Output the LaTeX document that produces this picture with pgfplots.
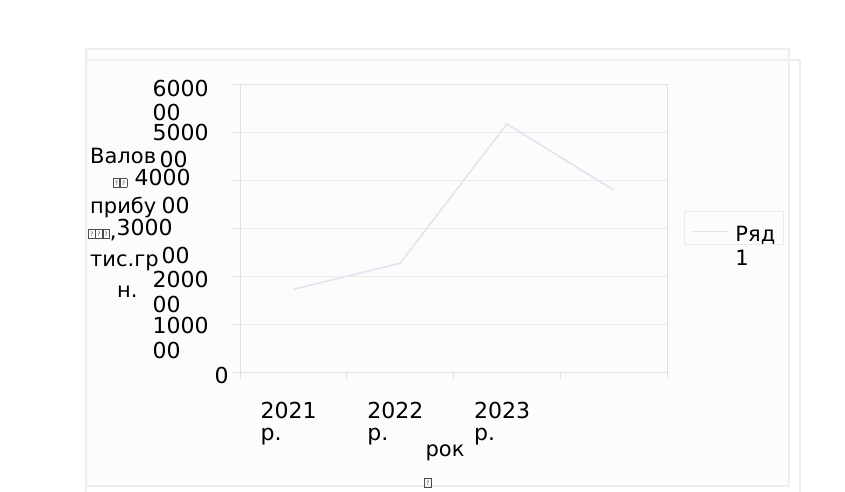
\documentclass[border=0pt]{standalone}
\usepackage{pgfplots}
\pgfplotsset{compat=1.18}
\usepackage{fontspec}
\setmainfont{DejaVu Sans}

\newcommand\lf{\fontsize{21}{24}\selectfont}
\newcommand\tf{\fontsize{22}{24}\selectfont}
% small framed placeholder glyph
\newcommand\tofu{{\color{black!70}\setlength\fboxsep{0pt}\setlength\fboxrule{0.6pt}%
  \fbox{\parbox[b][8pt][c]{6pt}{\centering\fontsize{6}{6}\selectfont ?}}}}
% wrapped y tick label: #1/#4 baseline drops, #2/#5 horizontal shifts
\newcommand\ytl[6]{\rlap{\hspace*{#2pt}\raisebox{-#1pt}{#3}}\rlap{\hspace*{#5pt}\raisebox{-#4pt}{#6}}}
% wrapped x tick label
\newcommand\xtl[1]{\rlap{#1}\rlap{\raisebox{-22pt}{р.}}}

\definecolor{framec}{HTML}{EEEEEE}
\definecolor{gridc}{HTML}{EBEBEB}
\definecolor{axisc}{HTML}{E0E0E0}
\definecolor{series}{RGB}{226,226,240}

\begin{document}
\begin{tikzpicture}[font=\lf]
\useasboundingbox (0pt,0pt) rectangle (845pt,491pt);
\fill[white] (0pt,0pt) rectangle (845pt,491pt);
% chart area outlines
\filldraw[fill=black!1, draw=framec, line width=1.5pt] (86pt,5pt) rectangle (789pt,442pt);
\draw[framec, line width=1.5pt] (86pt,-5pt) -- (86pt,431pt) -- (800pt,431pt) -- (800pt,-5pt);

\begin{axis}[
  at={(240pt,119pt)}, anchor=south west,
  scale only axis, width=427pt, height=288pt,
  xmin=0, xmax=4, ymin=0, ymax=600000,
  xtick={0,1,2,3,4},
  xticklabels={\xtl{2021},\xtl{2022},\xtl{2023},{},{}},
  ytick={0,100000,200000,300000,400000,500000,600000},
  yticklabels={
    \ytl{11}{62}{0}{11}{0}{},
    \ytl{9}{0}{1000}{34}{0}{00},
    \ytl{11}{0}{2000}{36}{0}{00},
    \ytl{7}{-36}{3000}{35}{9}{00},
    \ytl{5}{-18}{4000}{33}{9}{00},
    \ytl{8}{0}{5000}{35}{7}{00},
    \ytl{12}{0}{6000}{36}{0}{00}},
  scaled y ticks=false,
  ymajorgrids, grid style={gridc, line width=1pt},
  axis line style={axisc, line width=1pt},
  tick style={axisc, line width=1pt},
  tick align=outside, major tick length=7pt,
  xtick pos=bottom, ytick pos=left,
  tick label style={font=\tf},
  xticklabel style={anchor=base west, inner sep=0pt, xshift=20pt, yshift=-39pt},
  yticklabel style={anchor=base west, inner sep=0pt, xshift=-81pt},
  legend style={at={(axis description cs:1.0398,0.559)}, anchor=north west,
    draw=gridc, line width=1pt, fill=none, inner sep=0pt, font=\lf,
    nodes={inner sep=0pt, anchor=base west, draw=none}},
]
\addplot[series, line width=1.5pt,
  legend image code/.code={\path[draw=none] (-8pt,-3pt) rectangle (43pt,30pt);
    \draw[##1] (0pt,10pt) -- (36pt,10pt);}]
  coordinates {(0.5,172300) (1.5,226500) (2.5,516700) (3.5,379200)};
\addlegendentry{\rlap{\raisebox{-24pt}[0pt][0pt]{1}}\raisebox{0pt}[\height][0pt]{Ряд}\hspace*{8pt}}
\end{axis}

% axis titles
\node[anchor=base west, inner sep=0pt] at (90pt,328pt) {Валов};
\node[inner sep=0pt] at (120pt,308pt) {\tofu\tofu};
\node[anchor=base west, inner sep=0pt] at (90pt,278pt) {прибу};
\node[anchor=base west, inner sep=0pt] at (88pt,253pt) {\tofu\tofu\tofu,};
\node[anchor=base west, inner sep=0pt] at (90pt,225pt) {тис.гр};
\node[anchor=base west, inner sep=0pt] at (117pt,194pt) {н.};
\node[anchor=base, inner sep=0pt] at (445pt,35pt) {рок};
\node[inner sep=0pt] at (428pt,8pt) {\tofu};
\end{tikzpicture}
\end{document}
